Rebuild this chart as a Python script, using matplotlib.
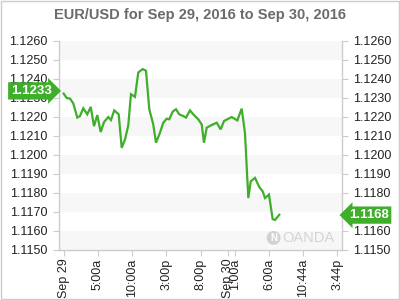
import matplotlib
matplotlib.use("Agg")
import matplotlib.pyplot as plt
from matplotlib.patches import Rectangle

plt.rcParams['font.family'] = ['Liberation Sans', 'DejaVu Sans']

# hours since Sep 29, 2016 00:00
hours = [0.0, 0.44, 0.92, 1.40, 1.99, 2.38, 2.86, 3.45, 3.95, 4.43, 4.91, 5.41, 5.89,
         6.52, 6.91, 7.39, 8.04, 8.48, 8.96, 9.44, 9.83, 10.42, 10.90, 11.54, 12.03,
         12.51, 13.09, 13.49, 14.07, 14.55, 15.05, 15.43, 15.93, 16.41, 16.89, 17.48,
         17.87, 18.46, 18.94, 19.67, 20.17, 20.50, 20.90, 21.63, 22.36, 22.94, 23.43,
         24.55, 25.37, 26.01, 26.49, 26.98, 27.33, 27.96, 28.58, 29.08, 29.42, 30.00,
         30.54, 30.88, 31.51]
rates = [1.12322, 1.12299, 1.12296, 1.12271, 1.12196, 1.12204, 1.12245, 1.12213,
         1.12252, 1.12151, 1.12209, 1.12120, 1.12172, 1.12199, 1.12183, 1.12234,
         1.12213, 1.12037, 1.12081, 1.12155, 1.12319, 1.12305, 1.12433, 1.12451,
         1.12442, 1.12240, 1.12160, 1.12064, 1.12116, 1.12169, 1.12190, 1.12187,
         1.12227, 1.12240, 1.12213, 1.12204, 1.12196, 1.12234, 1.12213, 1.12187,
         1.12160, 1.12064, 1.12143, 1.12157, 1.12169, 1.12134, 1.12178, 1.12199,
         1.12181, 1.12243, 1.12116, 1.11773, 1.11861, 1.11879, 1.11831, 1.11808,
         1.11773, 1.11791, 1.11662, 1.11658, 1.11685]

xtick_pos = [0, 5, 10, 15, 20, 24, 25, 30, 35, 40]
xtick_labels = ["Sep 29", "5:00a", "10:00a", "3:00p", "8:00p", "Sep 30", "1:00a",
                "6:00a", "10:44a", "3:44p"]
yticks = [1.1150, 1.1160, 1.1170, 1.1180, 1.1190, 1.1200, 1.1210, 1.1220, 1.1230,
          1.1240, 1.1250, 1.1260]
open_label = "1.1233"
last_label = "1.1168"
title = "EUR/USD for Sep 29, 2016 to Sep 30, 2016"

green = "#3eae2b"

fig = plt.figure(figsize=(4, 3), dpi=100)
ax = fig.add_axes([0.1467, 0.1667, 0.7083, 0.6975])

# alternating bands
for i in range(0, len(yticks) - 1, 2):
    ax.axhspan(yticks[i], yticks[i + 1], color="#f7f7f7", lw=0, zorder=0)

ax.plot(hours, rates, color=green, lw=1.6, zorder=3, solid_joinstyle="miter")

ax.set_xlim(-0.73, 40.67)
ax.set_ylim(1.1150, 1.1260)
ax.set_yticks(yticks)
ax.set_yticklabels([f"{v:.4f}" for v in yticks])
ax.set_xticks(xtick_pos)
ax.set_xticklabels(xtick_labels, rotation=90)

ax.spines["top"].set_visible(False)
for s in ["left", "right", "bottom"]:
    ax.spines[s].set_color("#cccccc")
    ax.spines[s].set_linewidth(1)

ax.tick_params(axis="y", which="both", left=True, right=True, labelleft=True,
               labelright=True, length=4, color="#cccccc", labelsize=9,
               labelcolor="#222222", pad=4)
ax.tick_params(axis="x", length=4, color="#cccccc", labelsize=9,
               labelcolor="#222222", pad=2)

fig.suptitle(title, x=0.5, y=0.975, fontsize=10.5, fontweight="bold", color="#6b6b6b")

# price labels
fig.text(0.078, 0.697, open_label, ha="center", va="center", fontsize=9.5,
         fontweight="bold", color="white",
         bbox=dict(boxstyle="rarrow,pad=0.2", fc=green, ec="none"))
fig.text(0.922, 0.283, last_label, ha="center", va="center", fontsize=9.5,
         fontweight="bold", color="white",
         bbox=dict(boxstyle="larrow,pad=0.2", fc=green, ec="none"))

# watermark
fig.text(0.684, 0.207, "N", ha="center", va="center", fontsize=7, fontweight="bold",
         color="white", bbox=dict(boxstyle="circle,pad=0.2", fc="#d2d2d2", ec="none"))
fig.text(0.706, 0.207, "OANDA", ha="left", va="center", fontsize=10.5, color="#d4d4d4")

fig.patches.append(Rectangle((0.0015, 0.002), 0.997, 0.996, transform=fig.transFigure,
                             fill=False, ec="#cccccc", lw=1))

fig.savefig("out.png", dpi=100)
